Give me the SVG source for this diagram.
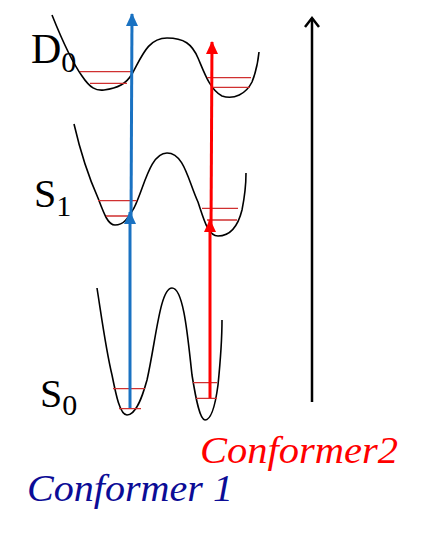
<svg xmlns="http://www.w3.org/2000/svg" width="427" height="538" viewBox="0 0 427 538">
<defs>
<style>
.curve{fill:none;stroke:#000;stroke-width:1.6}
.lvl{fill:none;stroke:#d03030;stroke-width:1.3}
.lbl{fill:#000}
.conf{font-style:italic}
</style>
<marker id="hb" markerUnits="userSpaceOnUse" markerWidth="12" markerHeight="13" refX="6" refY="1" orient="0" viewBox="0 0 12 13"><path d="M6,0 L12,13 L0,13 Z" fill="#1a72c2"/></marker>
<marker id="hr" markerUnits="userSpaceOnUse" markerWidth="12" markerHeight="13" refX="6" refY="1" orient="0" viewBox="0 0 12 13"><path d="M6,0 L12,13 L0,13 Z" fill="#ff0000"/></marker>
</defs>
<rect width="427" height="538" fill="#fff"/>
<g id="D0">
<path class="curve" d="M52,15 C62,40 72,62 82,76 C90,88 96,91 104,90 C118,88 126,84 132,74 C142,56 148,38 167,38 C184,38 192,44 198,58 C204,72 210,90 222,96 C234,100 246,94 252,82 C256,72 258,62 259,52"/>
<path class="lvl" d="M80,71.7 H131 M90,83.3 H127 M207,77.7 H251 M213,87.3 H250"/>
<text class="lbl" font-family="'Liberation Serif', 'DejaVu Serif', serif" x="31" y="63" font-size="42">D<tspan font-size="30" dy="9">0</tspan></text>
</g>
<g id="S1">
<path class="curve" d="M74,124 C80,150 90,180 98,198 C104,214 108,225 115,225 C124,225 128,218 134,208 C144,188 150,153 167,153 C184,153 188,180 198,202 C204,220 208,236 218,236 C230,236 238,226 242,210 C245,195 246,185 246,173"/>
<path class="lvl" d="M98,200.7 H137 M106,216 H130 M202,208.3 H238 M207,220 H237"/>
<text class="lbl" font-family="'Liberation Serif', 'DejaVu Serif', serif" x="34" y="207" font-size="40">S<tspan font-size="30" dy="9">1</tspan></text>
</g>
<g id="S0">
<path class="curve" d="M97,288 C102,320 106,350 112,375 C116,395 120,415 127,415 C136,415 142,398 147,380 C156,340 160,288 172,288 C184,288 188,340 192,375 C196,400 200,420 205,420 C212,420 216,400 218,385 C220,365 222,340 222,320"/>
<path class="lvl" d="M113,388.7 H145 M119,408.7 H141 M193,382.7 H217 M196,398.3 H217"/>
<text class="lbl" font-family="'Liberation Serif', 'DejaVu Serif', serif" x="40" y="407" font-size="40">S<tspan font-size="30" dy="8">0</tspan></text>
</g>
<g id="connectors">
<line x1="130" y1="408" x2="130" y2="212" stroke="#1a72c2" stroke-width="3" marker-end="url(#hb)"/>
<line x1="131" y1="222" x2="132" y2="14" stroke="#1a72c2" stroke-width="3" marker-end="url(#hb)"/>
<line x1="210" y1="398" x2="210" y2="220" stroke="#ff0000" stroke-width="3" marker-end="url(#hr)"/>
<line x1="211" y1="230" x2="212" y2="42" stroke="#ff0000" stroke-width="3" marker-end="url(#hr)"/>
<line x1="312" y1="402" x2="312" y2="18" stroke="#000" stroke-width="2.5"/>
<path d="M305,27 L312,18 L319,27" fill="none" stroke="#000" stroke-width="2.5"/>
</g>
<g id="labels">
<text class="conf" font-family="'Liberation Serif', 'DejaVu Serif', serif" x="200" y="463" font-size="37" fill="#ff0000" textLength="198" lengthAdjust="spacingAndGlyphs">Conformer2</text>
<text class="conf" font-family="'Liberation Serif', 'DejaVu Serif', serif" x="27" y="501" font-size="38" fill="#0c0c96" textLength="206" lengthAdjust="spacingAndGlyphs">Conformer 1</text>
</g>
</svg>
